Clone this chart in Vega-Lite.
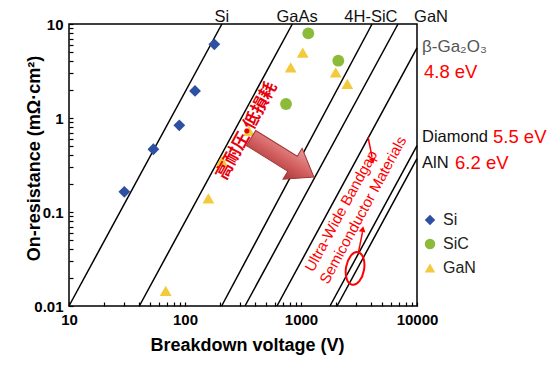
{
  "$schema": "https://vega.github.io/schema/vega-lite/v6.json",
  "width": 348,
  "height": 282,
  "autosize": {"type": "none"},
  "padding": {"left": 69, "top": 24, "right": 137, "bottom": 63},
  "config": {
    "view": {"stroke": "#000", "strokeWidth": 1.5},
    "font": "Liberation Sans",
    "axis": {
      "domain": false,
      "grid": false,
      "ticks": true,
      "tickColor": "#000",
      "tickOpacity": 1,
      "tickSize": 4,
      "offset": -4,
      "tickWidth": 1.2,
      "labelFont": "Liberation Sans",
      "labelFontSize": 15,
      "labelFontWeight": "bold",
      "labelColor": "#000",
      "titleFont": "Liberation Sans",
      "titleFontSize": 18,
      "titleFontWeight": "bold",
      "titleColor": "#000"
    }
  },
  "layer": [
    {
      "data": {"values": [
        {"m": "Si", "V": 10, "R": 0.01}, {"m": "Si", "V": 208, "R": 10},
        {"m": "GaAs", "V": 40.4, "R": 0.01}, {"m": "GaAs", "V": 842, "R": 10},
        {"m": "4H-SiC", "V": 207, "R": 0.01}, {"m": "4H-SiC", "V": 4100, "R": 10},
        {"m": "GaN", "V": 329, "R": 0.01}, {"m": "GaN", "V": 6860, "R": 10},
        {"m": "Ga2O3", "V": 621, "R": 0.01}, {"m": "Ga2O3", "V": 10000, "R": 5.56},
        {"m": "Diamond", "V": 1778, "R": 0.01}, {"m": "Diamond", "V": 10000, "R": 0.508},
        {"m": "AlN", "V": 2046, "R": 0.01}, {"m": "AlN", "V": 10000, "R": 0.369}
      ]},
      "mark": {"type": "line", "color": "#000", "strokeWidth": 1.5},
      "encoding": {
        "x": {
          "field": "V", "type": "quantitative",
          "scale": {"type": "log", "domain": [10, 10000], "nice": false},
          "axis": {
            "title": "Breakdown voltage (V)",
            "values": [10, 20, 30, 40, 50, 60, 70, 80, 90, 100, 200, 300, 400, 500, 600, 700, 800, 900, 1000, 2000, 3000, 4000, 5000, 6000, 7000, 8000, 9000, 10000],
            "labelExpr": "indexof([10, 100, 1000, 10000], datum.value) >= 0 ? format(datum.value, '~g') : ''",
            "labelPadding": 6,
            "labelFlush": false,
            "labelOverlap": false,
            "titleX": 178,
            "titleY": 48,
            "titleBaseline": "alphabetic",
            "titleAnchor": null
          }
        },
        "y": {
          "field": "R", "type": "quantitative",
          "scale": {"type": "log", "domain": [0.01, 10], "nice": false},
          "axis": {
            "title": "On-resistance (mΩ·cm²)",
            "values": [0.01, 0.02, 0.03, 0.04, 0.05, 0.06, 0.07, 0.08, 0.09, 0.1, 0.2, 0.3, 0.4, 0.5, 0.6, 0.7, 0.8, 0.9, 1, 2, 3, 4, 5, 6, 7, 8, 9, 10],
            "labelExpr": "indexof([0.01, 0.1, 1, 10], datum.value) >= 0 ? format(datum.value, '~g') : ''",
            "labelPadding": 6,
            "labelFlush": false,
            "labelOverlap": false,
            "titleX": -39,
            "titleY": 134,
            "titleAngle": -90,
            "titleBaseline": "middle",
            "titleAlign": "center"
          }
        },
        "detail": {"field": "m"}
      }
    },
    {
      "data": {"values": [
        {"material": "Si", "V": 30.0, "R": 0.164},
        {"material": "Si", "V": 53.4, "R": 0.465},
        {"material": "Si", "V": 89.3, "R": 0.836},
        {"material": "Si", "V": 122, "R": 1.94},
        {"material": "Si", "V": 179, "R": 6.08},
        {"material": "SiC", "V": 1156, "R": 7.96},
        {"material": "SiC", "V": 2097, "R": 4.07},
        {"material": "SiC", "V": 743, "R": 1.41},
        {"material": "GaN", "V": 68.2, "R": 0.0145},
        {"material": "GaN", "V": 159, "R": 0.14},
        {"material": "GaN", "V": 208, "R": 0.349},
        {"material": "GaN", "V": 356, "R": 0.728},
        {"material": "GaN", "V": 815, "R": 3.45},
        {"material": "GaN", "V": 1035, "R": 4.95},
        {"material": "GaN", "V": 1991, "R": 3.05},
        {"material": "GaN", "V": 2507, "R": 2.3}
      ]},
      "mark": {"type": "point", "filled": true, "opacity": 1, "size": 140},
      "encoding": {
        "x": {"field": "V", "type": "quantitative"},
        "y": {"field": "R", "type": "quantitative"},
        "color": {
          "field": "material", "type": "nominal",
          "scale": {"domain": ["Si", "SiC", "GaN"], "range": ["#2E50A2", "#8CBB3A", "#F2CA3C"]},
          "legend": {"title": null, "orient": "none", "legendX": 353, "legendY": 188, "padding": 0, "labelFontSize": 16, "labelFont": "Liberation Sans", "labelColor": "#222", "symbolSize": 110, "labelOffset": 5, "rowPadding": 8}
        },
        "shape": {
          "field": "material", "type": "nominal",
          "scale": {"domain": ["Si", "SiC", "GaN"], "range": ["diamond", "circle", "triangle-up"]},
          "legend": {"title": null, "orient": "none", "legendX": 353, "legendY": 188, "padding": 0, "labelFontSize": 16, "labelFont": "Liberation Sans", "labelColor": "#222", "symbolSize": 110, "labelOffset": 5, "rowPadding": 8}
        }
      }
    },
    {
      "data": {"values": [
        {"t": "Si", "V": 208, "R": 11.96},
        {"t": "GaAs", "V": 925, "R": 11.96},
        {"t": "4H-SiC", "V": 4008, "R": 11.96},
        {"t": "GaN", "V": 13210, "R": 11.96}
      ]},
      "mark": {"type": "text", "fontSize": 16.5, "color": "#111", "align": "center", "baseline": "middle"},
      "encoding": {"x": {"field": "V", "type": "quantitative"}, "y": {"field": "R", "type": "quantitative"}, "text": {"field": "t"}}
    },
    {
      "data": {"values": [
        {"t": "β-Ga₂O₃", "V": 11040, "R": 5.73}
      ]},
      "mark": {"type": "text", "fontSize": 17, "color": "#555", "align": "left", "baseline": "middle"},
      "encoding": {"x": {"field": "V", "type": "quantitative"}, "y": {"field": "R", "type": "quantitative"}, "text": {"field": "t"}}
    },
    {
      "data": {"values": [
        {"t": "Diamond", "V": 11040, "R": 0.628},
        {"t": "AlN", "V": 11040, "R": 0.332}
      ]},
      "mark": {"type": "text", "fontSize": 16.5, "color": "#111", "align": "left", "baseline": "middle"},
      "encoding": {"x": {"field": "V", "type": "quantitative"}, "y": {"field": "R", "type": "quantitative"}, "text": {"field": "t"}}
    },
    {
      "data": {"values": [
        {"t": "4.8 eV", "V": 11480, "R": 3.11},
        {"t": "5.5 eV", "V": 45190, "R": 0.628},
        {"t": "6.2 eV", "V": 21280, "R": 0.332}
      ]},
      "mark": {"type": "text", "fontSize": 18.5, "color": "#FF0000", "align": "left", "baseline": "middle"},
      "encoding": {"x": {"field": "V", "type": "quantitative"}, "y": {"field": "R", "type": "quantitative"}, "text": {"field": "t"}}
    },
    {
      "data": {"values": [{"V": 692.5, "R": 0.38}]},
      "mark": {
        "type": "point",
        "shape": "M -1 -0.24 L 0.32 -0.24 L 0.32 -0.49 L 1 0 L 0.32 0.49 L 0.32 0.24 L -1 0.24 Z",
        "size": 5476,
        "angle": 31.8,
        "filled": true,
        "opacity": 1,
        "fill": {"gradient": "linear", "x1": 0, "y1": 0, "x2": 0, "y2": 1, "stops": [{"offset": 0, "color": "#E89A9A"}, {"offset": 0.5, "color": "#D56262"}, {"offset": 1, "color": "#A83838"}]},
        "stroke": "#A33535",
        "strokeWidth": 1
      },
      "encoding": {"x": {"field": "V", "type": "quantitative"}, "y": {"field": "R", "type": "quantitative"}}
    },
    {
      "data": {"values": [{"t": "高耐圧•低損耗", "V": 342, "R": 0.728}]},
      "mark": {"type": "text", "font": "Noto Sans CJK JP", "fontSize": 17, "fontWeight": "bold", "color": "#E8000B", "angle": -61.5, "align": "center", "baseline": "middle"},
      "encoding": {"x": {"field": "V", "type": "quantitative"}, "y": {"field": "R", "type": "quantitative"}, "text": {"field": "t"}}
    },
    {
      "data": {"values": [
        {"t": "Ultra-Wide Bandgap", "V": 2213, "R": 0.1026},
        {"t": "Semiconductor Materials", "V": 3420, "R": 0.105}
      ]},
      "mark": {"type": "text", "fontSize": 15, "color": "#FF0000", "angle": -61.5, "align": "center", "baseline": "middle"},
      "encoding": {"x": {"field": "V", "type": "quantitative"}, "y": {"field": "R", "type": "quantitative"}, "text": {"field": "t"}}
    },
    {
      "data": {"values": [{"V": 2924, "R": 0.0251}]},
      "mark": {"type": "point", "shape": "M 0 -1 A 0.55 1 0 1 1 0 1 A 0.55 1 0 1 1 0 -1 Z", "size": 1089, "angle": 10, "filled": false, "stroke": "#FF0000", "strokeWidth": 2, "opacity": 1},
      "encoding": {"x": {"field": "V", "type": "quantitative"}, "y": {"field": "R", "type": "quantitative"}}
    },
    {
      "data": {"values": [
        {"V": 3133, "R": 0.0375, "V2": 3388, "R2": 0.0612},
        {"V": 3784, "R": 0.628, "V2": 4093, "R2": 0.385}
      ]},
      "mark": {"type": "rule", "color": "#FF0000", "strokeWidth": 1.5},
      "encoding": {"x": {"field": "V", "type": "quantitative"}, "y": {"field": "R", "type": "quantitative"}, "x2": {"field": "V2"}, "y2": {"field": "R2"}}
    },
    {
      "data": {"values": [
        {"V": 3404, "R": 0.0659, "a": 11},
        {"V": 4150, "R": 0.349, "a": 169}
      ]},
      "mark": {"type": "point", "shape": "triangle-up", "size": 45, "filled": true, "color": "#FF0000", "opacity": 1},
      "encoding": {"x": {"field": "V", "type": "quantitative"}, "y": {"field": "R", "type": "quantitative"}, "angle": {"field": "a", "type": "quantitative", "scale": null}}
    }
  ]
}
